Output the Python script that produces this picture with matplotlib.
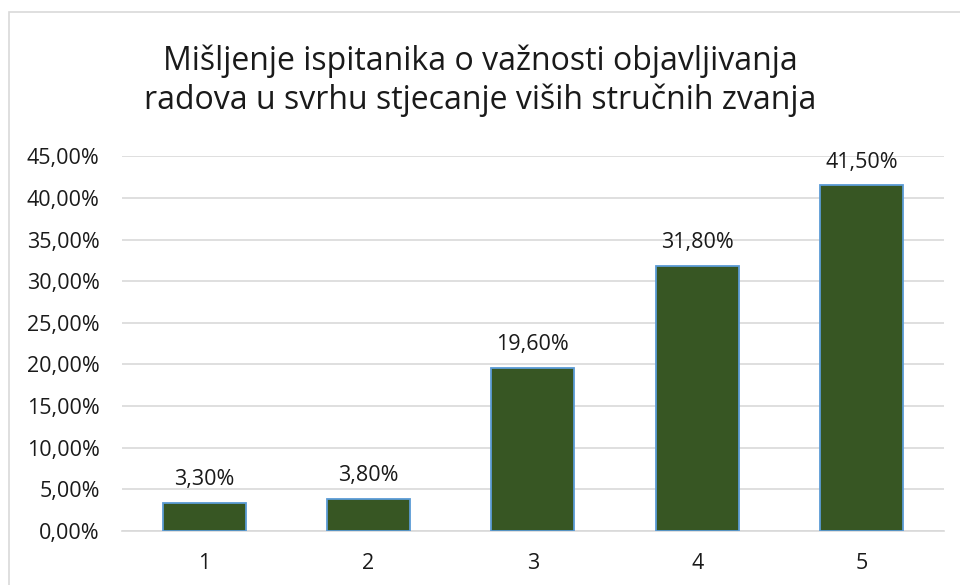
import matplotlib
matplotlib.use("Agg")
import matplotlib.pyplot as plt
from matplotlib.patches import Rectangle
from matplotlib.ticker import FuncFormatter

categories = ["1", "2", "3", "4", "5"]
shares = [3.30, 3.80, 19.60, 31.80, 41.50]
title = "Mišljenje ispitanika o važnosti objavljivanja\nradova u svrhu stjecanje viših stručnih zvanja"

plt.rcParams["font.family"] = ["Open Sans", "DejaVu Sans"]

fig = plt.figure(figsize=(9.6, 5.85), dpi=100)
ax = fig.add_axes([0.127, 0.0928, 0.856, 0.640])

# outer chart frame
fig.patches.append(Rectangle((9 / 960, -0.1), 1.2, 1 - 12 / 585 + 0.1,
                             transform=fig.transFigure, fill=False,
                             edgecolor="#D9D9D9", linewidth=1.2))

x = range(len(categories))
bars = ax.bar(x, shares, width=0.506, color="#375623",
              edgecolor="#5B9BD5", linewidth=1.3, zorder=3)

# value labels above each bar
for xi, v in zip(x, shares):
    ax.text(xi, v + 2.15, f"{v:.2f}%".replace(".", ","), ha="center",
            va="baseline", fontsize=15.5, color="#1a1a1a")

ax.set_xlim(-0.5, len(categories) - 0.5)
ax.set_ylim(0, 45)
ax.set_yticks(range(0, 46, 5))
ax.yaxis.set_major_formatter(FuncFormatter(lambda v, p: f"{v:.2f}%".replace(".", ",")))
ax.set_xticks(list(x))
ax.set_xticklabels(categories)
ax.grid(axis="y", color="#D9D9D9", linewidth=1.2, zorder=0)
for s in ["top", "right", "left"]:
    ax.spines[s].set_visible(False)
ax.spines["bottom"].set_color("#D9D9D9")
ax.spines["bottom"].set_linewidth(1.2)
ax.tick_params(length=0, labelsize=15.5, colors="#1a1a1a", pad=16)

fig.text(0.5, 0.862, title, ha="center", va="center", fontsize=23,
         color="#1a1a1a", linespacing=1.25)

fig.savefig("out.png", dpi=100)
